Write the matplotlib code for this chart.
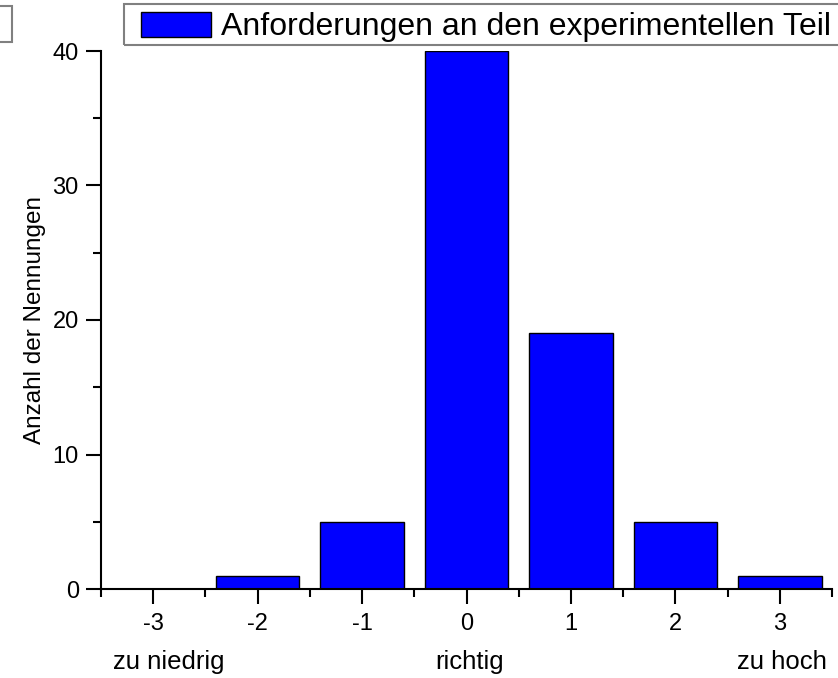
import matplotlib.pyplot as plt
from matplotlib.patches import Rectangle
from matplotlib.ticker import MultipleLocator

plt.rcParams['font.family'] = ['Liberation Sans', 'DejaVu Sans']
plt.rcParams['axes.unicode_minus'] = False

# Daten
kategorien = [-3, -2, -1, 0, 1, 2, 3]
nennungen = [0, 1, 5, 40, 19, 5, 1]
bereich_pos = [-2.85, 0.03, 3.02]
bereich_text = ["zu niedrig", "richtig", "zu hoch"]
serie = "Anforderungen an den experimentellen Teil"

W, H = 838, 678
fig = plt.figure(figsize=(W / 100, H / 100), dpi=100)
ax = fig.add_axes([101 / W, 1 - 589 / H, (832 - 101) / W, (589 - 51) / H])

ax.bar(kategorien, nennungen, width=0.8, color="#0000ff", edgecolor="black",
       linewidth=1.0, label=serie, zorder=2)

ax.set_xlim(-3.5, 3.5)
ax.set_ylim(0, 40)
ax.set_xticks(kategorien)
ax.xaxis.set_minor_locator(MultipleLocator(1, offset=0.5))
ax.yaxis.set_major_locator(MultipleLocator(10))
ax.yaxis.set_minor_locator(MultipleLocator(5))

for s in ("top", "right"):
    ax.spines[s].set_visible(False)
for s in ("left", "bottom"):
    ax.spines[s].set_linewidth(1.5)
    ax.spines[s].set_zorder(3)

ax.tick_params(which="major", direction="out", length=11, width=1.5,
               labelsize=17, pad=5)
ax.tick_params(which="minor", direction="out", length=6, width=1.5)
ax.tick_params(axis="x", which="major", pad=6)

ax.set_ylabel("Anzahl der Nennungen", fontsize=17.5, labelpad=5)

# Bereichsbeschriftungen unter der Achse
trans = ax.get_xaxis_transform()
for p, t in zip(bereich_pos, bereich_text):
    ax.text(p, -0.135, t, transform=trans, ha="center", va="center",
            fontsize=18.5)

# Rahmen der Legende (rechts angeschnitten), Legende selbst ohne Rahmen
fig.patches.append(Rectangle((124 / W, 1 - 45 / H), (W - 124 + 20) / W, 41 / H,
                             transform=fig.transFigure, fill=False,
                             edgecolor="#808080", linewidth=1.5))
leg = fig.legend(loc="center left", bbox_to_anchor=(141 / W, 1 - 27 / H),
                 fontsize=23, frameon=False,
                 handlelength=2.2, handleheight=0.85, handletextpad=0.3,
                 borderpad=0, borderaxespad=0)

# angeschnittener Kasten oben links
fig.patches.append(Rectangle((-0.02, 1 - 42 / H), 12 / W + 0.02, 36 / H,
                             transform=fig.transFigure, fill=False,
                             edgecolor="#808080", linewidth=1.5))

fig.savefig("out.png", dpi=100)
